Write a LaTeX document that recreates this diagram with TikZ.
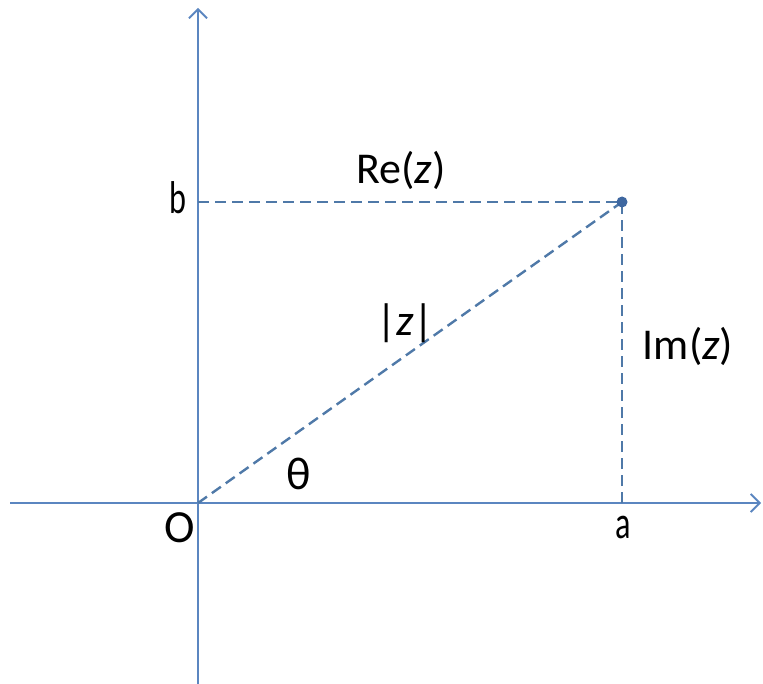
\documentclass[tikz,border=0pt]{standalone}
\usepackage{fontspec}
\setmainfont{Carlito}
\usetikzlibrary{arrows.meta}
\definecolor{axisblue}{HTML}{5B86C0}
\definecolor{dashblue}{HTML}{4F79A8}
\definecolor{dotblue}{HTML}{3E67A0}
\begin{document}
\begin{tikzpicture}[x=1pt,y=-1pt,
  axis/.style={draw=axisblue,line width=2.2pt,-{Straight Barb[length=9pt,width=18pt,line width=1.8pt]}},
  dline/.style={draw=dashblue,line width=2.4pt,dash pattern=on 11pt off 6pt},
  lbl/.style={inner sep=0pt,font=\fontsize{44}{48}\selectfont},
  big/.style={inner sep=0pt,font=\fontsize{46}{50}\selectfont},
  narrow/.style={inner sep=0pt,font=\fontsize{46}{50}\selectfont,xscale=0.7}]
\useasboundingbox (0,0) rectangle (763,684);
\coordinate (O) at (198,503);
\coordinate (P) at (622,202);
\coordinate (B) at (198,202);
\coordinate (A) at (622,503);
\coordinate (xl) at (10,503);
\coordinate (xr) at (761,503);
\coordinate (yb) at (198,684);
\coordinate (yt) at (198,8);
\draw[axis] (xl) -- (xr);
\draw[axis] (yb) -- (yt);
\draw[dline] (B) -- (P);
\draw[dline] (A) -- (P);
\draw[dline] (O) -- (P);
\fill[dotblue] (P) circle (5.5pt);
\node[narrow] (lb) at (178,198) {b};
\node[narrow] (la) at (623,527) {a};
\node[big] (lO) at (180,528) {O};
\node[big] (lt) at (299,474) {θ};
\node[lbl] (lz) at (405,323) {|\textit{z}|};
\node[lbl] (lim) at (688,346) {Im(\textit{z})};
\node[lbl] (lre) at (401,170) {Re(\textit{z})};
\end{tikzpicture}
\end{document}
